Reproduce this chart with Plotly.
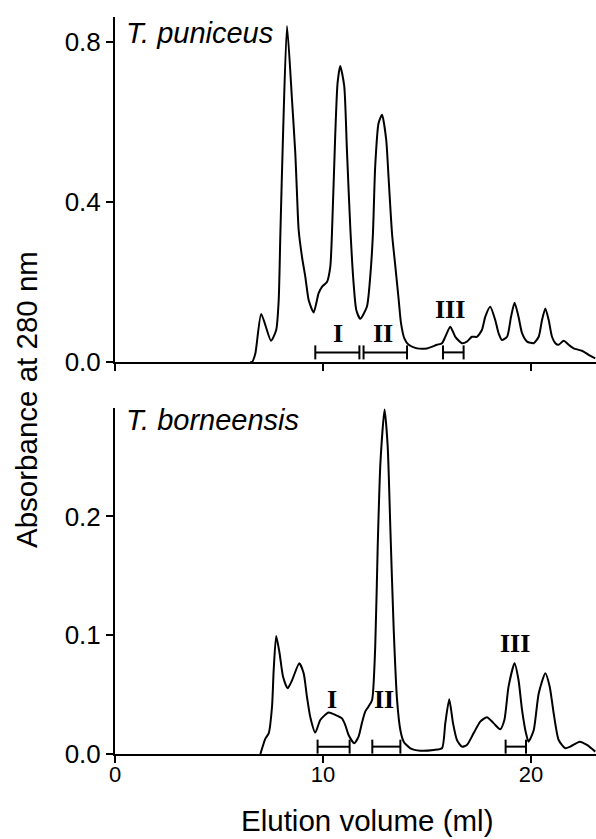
import plotly.graph_objects as go

# ---------------- data ----------------
# T. puniceus elution profile (ml, absorbance at 280 nm)
top_x = [6.50, 6.59, 6.75, 7.03, 7.50, 7.75, 7.87, 7.95, 8.08, 8.27, 8.51, 8.67, 8.75, 8.83, 8.99,
         9.15, 9.31, 9.55, 9.79, 9.95, 10.19, 10.35, 10.43, 10.59, 10.70, 10.83, 11.02, 11.15,
         11.31, 11.47, 11.60, 11.79, 12.11, 12.27, 12.40, 12.51, 12.67, 12.84, 13.04, 13.15,
         13.32, 13.48, 13.64, 13.75, 13.91, 14.12, 14.52, 15.00, 15.48, 15.72, 15.88, 16.12,
         16.36, 16.68, 16.92, 17.16, 17.40, 17.64, 17.80, 18.04, 18.28, 18.44, 18.60, 18.85,
         19.04, 19.21, 19.40, 19.57, 19.81, 20.13, 20.37, 20.53, 20.69, 20.85, 21.01, 21.17,
         21.33, 21.57, 21.81, 22.05, 22.45, 22.77, 23.09]
top_y = [0.000, 0.000, 0.022, 0.120, 0.053, 0.080, 0.155, 0.320, 0.570, 0.840, 0.655, 0.520, 0.420,
         0.330, 0.263, 0.213, 0.155, 0.124, 0.172, 0.188, 0.200, 0.238, 0.320, 0.570, 0.697,
         0.740, 0.690, 0.530, 0.338, 0.197, 0.130, 0.108, 0.138, 0.213, 0.320, 0.490, 0.597,
         0.618, 0.555, 0.463, 0.320, 0.238, 0.155, 0.097, 0.059, 0.043, 0.034, 0.034, 0.043,
         0.047, 0.063, 0.088, 0.063, 0.047, 0.051, 0.063, 0.063, 0.080, 0.113, 0.138, 0.105,
         0.072, 0.055, 0.063, 0.113, 0.148, 0.113, 0.072, 0.051, 0.047, 0.063, 0.105, 0.134,
         0.105, 0.063, 0.047, 0.043, 0.053, 0.043, 0.034, 0.028, 0.018, 0.009]

# T. borneensis elution profile
bot_x = [6.99, 7.23, 7.39, 7.55, 7.63, 7.75, 7.91, 8.08, 8.30, 8.51, 8.86, 9.07, 9.23, 9.39, 9.63,
         9.87, 10.27, 10.59, 10.91, 11.07, 11.23, 11.50, 11.71, 11.87, 12.03, 12.19, 12.36, 12.51,
         12.63, 12.76, 12.96, 13.11, 13.24, 13.40, 13.56, 13.72, 13.88, 14.20, 14.68, 15.32, 15.72,
         15.88, 16.07, 16.25, 16.44, 16.68, 16.92, 17.24, 17.56, 17.88, 18.20, 18.52, 18.72, 18.92,
         19.21, 19.40, 19.57, 19.76, 19.88, 20.13, 20.37, 20.69, 20.90, 21.09, 21.33, 21.65, 21.89,
         22.34, 22.69, 23.09]
bot_y = [0.000, 0.013, 0.0174, 0.040, 0.071, 0.0994, 0.085, 0.065, 0.0553, 0.062, 0.0764, 0.068, 0.048,
         0.031, 0.018, 0.0286, 0.035, 0.0329, 0.030, 0.0244, 0.016, 0.009, 0.0146, 0.026, 0.0357,
         0.040, 0.0455, 0.090, 0.1746, 0.245, 0.290, 0.259, 0.189, 0.1045, 0.0455, 0.020, 0.0104,
         0.0048, 0.0028, 0.0034, 0.0048, 0.026, 0.046, 0.026, 0.0118, 0.0062, 0.0076, 0.0174,
         0.0272, 0.031, 0.026, 0.0208, 0.0286, 0.0567, 0.0764, 0.0623, 0.037, 0.0174, 0.0104,
         0.020, 0.051, 0.068, 0.0567, 0.0343, 0.0118, 0.0048, 0.0062, 0.0104, 0.0076, 0.002]

# pooled fractions (labels, start/end volume, bracket level, label position)
top_frac_labels = ["I", "II", "III"]
top_frac_start = [9.63, 11.95, 15.77]
top_frac_end = [11.75, 14.04, 16.76]
top_frac_level = 0.024
top_label_x = [10.70, 12.90, 16.10]
top_label_y = [0.070, 0.070, 0.132]

bot_frac_labels = ["I", "II", "III"]
bot_frac_start = [9.74, 12.37, 18.78]
bot_frac_end = [11.28, 13.72, 19.76]
bot_frac_level = 0.0062
bot_label_x = [10.43, 12.95, 19.25]
bot_label_y = [0.046, 0.046, 0.093]

top_ticks = [0.0, 0.4, 0.8]
bot_ticks = [0.0, 0.1, 0.2]
x_ticks = [0, 10, 20]

panel_titles = ["T. puniceus", "T. borneensis"]
x_title = "Elution volume (ml)"
y_title = "Absorbance at 280 nm"

# ---------------- figure ----------------
fig = go.Figure()

fig.add_trace(go.Scatter(x=top_x, y=top_y, mode="lines", line=dict(color="black", width=2, shape="spline", smoothing=0.6),
                         xaxis="x2", yaxis="y2", showlegend=False, hoverinfo="skip"))
fig.add_trace(go.Scatter(x=bot_x, y=bot_y, mode="lines", line=dict(color="black", width=2, shape="spline", smoothing=0.6),
                         xaxis="x", yaxis="y", showlegend=False, hoverinfo="skip"))


def add_brackets(starts, ends, level, xa, ya):
    for s, e in zip(starts, ends):
        fig.add_trace(go.Scatter(x=[s, e], y=[level, level], mode="lines+markers",
                                 line=dict(color="black", width=2),
                                 marker=dict(symbol="line-ns", size=10, line=dict(color="black", width=2)),
                                 xaxis=xa, yaxis=ya, showlegend=False, hoverinfo="skip"))


add_brackets(top_frac_start, top_frac_end, top_frac_level, "x2", "y2")
add_brackets(bot_frac_start, bot_frac_end, bot_frac_level, "x", "y")

annotations = []
lab_font = dict(family="Liberation Serif", size=26, color="black")
for t, x, y in zip(top_frac_labels, top_label_x, top_label_y):
    annotations.append(dict(x=x, y=y, xref="x2", yref="y2", text="<b>%s</b>" % t, showarrow=False,
                            font=lab_font, xanchor="center", yanchor="middle"))
for t, x, y in zip(bot_frac_labels, bot_label_x, bot_label_y):
    annotations.append(dict(x=x, y=y, xref="x", yref="y", text="<b>%s</b>" % t, showarrow=False,
                            font=lab_font, xanchor="center", yanchor="middle"))

title_font = dict(family="Liberation Sans", size=29, color="black")
annotations.append(dict(x=0.45, y=0.8225, xref="x2", yref="y2", text="<i>%s</i>" % panel_titles[0],
                        showarrow=False, font=title_font, xanchor="left", yanchor="middle"))
annotations.append(dict(x=0.45, y=0.281, xref="x", yref="y", text="<i>%s</i>" % panel_titles[1],
                        showarrow=False, font=title_font, xanchor="left", yanchor="middle"))

axis_font = dict(family="Liberation Sans", size=29.5, color="black")
annotations.append(dict(x=-0.183, y=0.4817, xref="paper", yref="paper", text=y_title, textangle=-90,
                        showarrow=False, font=axis_font, xanchor="center", yanchor="middle"))
annotations.append(dict(x=0.523, y=-0.0909, xref="paper", yref="paper", text=x_title,
                        showarrow=False, font=axis_font, xanchor="center", yanchor="middle"))

common_axis = dict(showline=True, linecolor="black", linewidth=2, ticks="outside", ticklen=7,
                   tickwidth=2, tickcolor="black", showgrid=False, zeroline=False)
xtick_font = dict(family="Liberation Sans", size=22, color="black")
ytick_font = dict(family="Liberation Sans", size=26, color="black")

xrange = [0, 23.125]
fig.update_layout(
    width=596, height=839,
    margin=dict(l=115, r=0, t=17, b=85),
    paper_bgcolor="white", plot_bgcolor="white",
    xaxis=dict(range=xrange, tickvals=x_ticks, ticktext=[str(v) for v in x_ticks], anchor="y",
               tickfont=xtick_font, ticklabelstandoff=-7, **common_axis),
    xaxis2=dict(range=xrange, tickvals=x_ticks, showticklabels=False, anchor="y2", **common_axis),
    yaxis=dict(range=[0, 0.2913], domain=[0, 0.4695], tickvals=bot_ticks, tickformat=".1f", anchor="x",
               tickfont=ytick_font, **common_axis),
    yaxis2=dict(range=[0, 0.8625], domain=[0.5319, 1], tickvals=top_ticks, tickformat=".1f", anchor="x2",
                tickfont=ytick_font, **common_axis),
    annotations=annotations,
    showlegend=False,
)

fig.write_html("out.html", config={"displayModeBar": False},
               post_script="document.body.style.margin='0';document.body.style.overflow='hidden';")
